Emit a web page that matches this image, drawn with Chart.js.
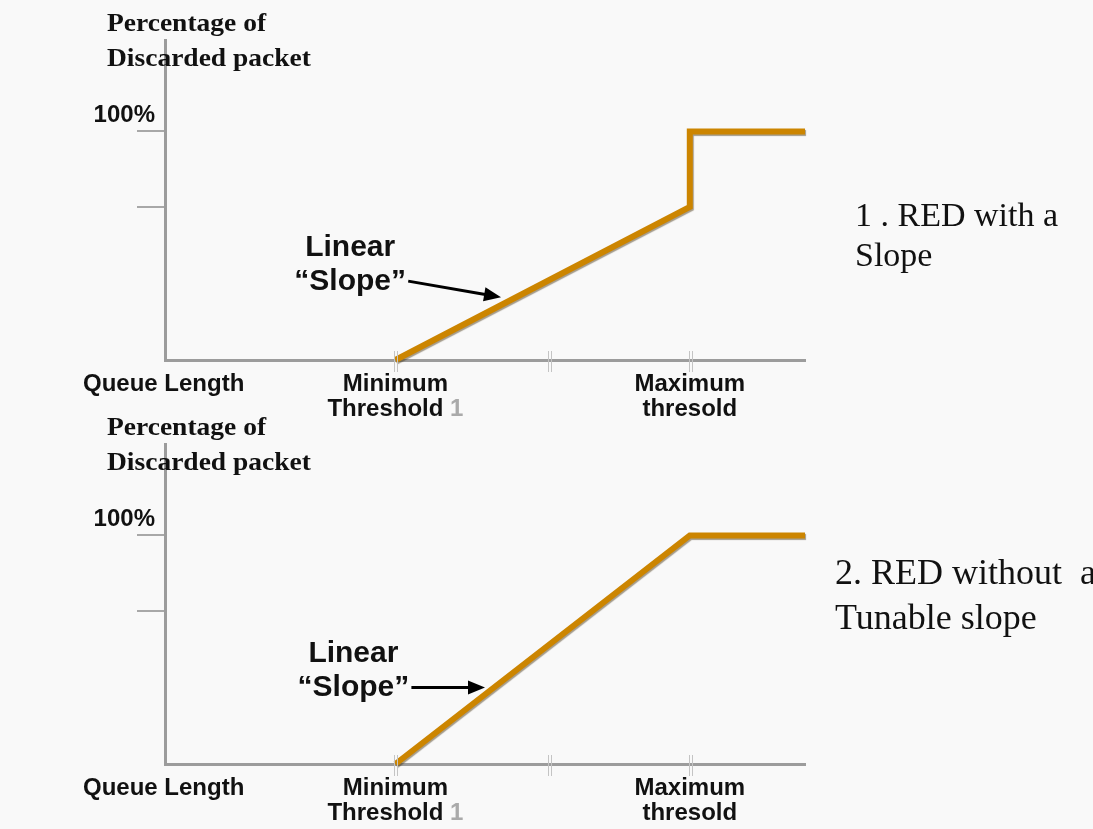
<!DOCTYPE html>
<html>
<head>
<meta charset="utf-8">
<script src="https://cdn.jsdelivr.net/npm/chart.js@4.4.1/dist/chart.umd.min.js"></script>
<style>
  body { margin: 0; background: #f9f9f9; overflow: hidden; }
  #page { position: relative; width: 1093px; height: 829px; overflow: hidden; }
  .panel { position: absolute; left: 0; width: 1093px; height: 404px; }
  .panel canvas { position: absolute; left: 0; top: 0; }
  .lbl { position: absolute; white-space: pre; color: #111; }
  .sans { font: bold 24px "Liberation Sans", Arial, sans-serif; line-height: 25px; }
  .center { text-align: center; }
  .ytitle { font: bold 25px "Liberation Serif", "Times New Roman", serif; line-height: 35px; transform: scaleX(1.1); transform-origin: 0 0; }
  .note { font: bold 30px "Liberation Sans", Arial, sans-serif; line-height: 34px; text-align: center; }
  .side { font: 34px "Liberation Serif", "Times New Roman", serif; line-height: 40px; }
  .side2 { font: 36px "Liberation Serif", "Times New Roman", serif; line-height: 45px; }
  .gray { color: #aaa; }
</style>
</head>
<body>
<div id="page">
  <div class="panel" id="p1" style="top:0"><canvas id="c1" width="1093" height="404"></canvas></div>
  <div class="panel" id="p2" style="top:404px"><canvas id="c2" width="1093" height="404"></canvas></div>
</div>
<script>
// axis ticks + labels
const queueTicks = [36, 60, 82];
const queueTickLabels = ['Minimum\nThreshold', '', 'Maximum\nthresold'];
const thresholdIndex = '1';
const dropTicks = [67, 100];
const dropTickLabels = ['', '100%'];
const yTitle = 'Percentage of\nDiscarded packet';
const xTitle = 'Queue Length';

// 1. RED with a slope
const slopeQueue = [36, 82, 82, 100];
const slopeDrop = [0, 67, 100, 100];
// 2. RED without a tunable slope
const steepQueue = [36, 82, 100];
const steepDrop = [0, 100, 100];

// "Linear Slope" arrows, [tail, tip] in data units
const slopeArrow = [[38, 34.5], [52.5, 27.5]];
const steepArrow = [[38.5, 33.5], [50, 33.5]];

const lineColor = '#cc8500';

const marksPlugin = {
  id: 'marks',
  beforeDatasetsDraw(chart) {
    const ctx = chart.ctx;
    ctx.save();
    ctx.shadowColor = 'rgba(60,40,0,0.45)';
    ctx.shadowOffsetX = 1;
    ctx.shadowOffsetY = 1.5;
    ctx.shadowBlur = 1;
  },
  afterDatasetsDraw(chart) {
    chart.ctx.restore();
  },
  afterDraw(chart, args, opts) {
    const { ctx, scales: { x, y } } = chart;
    const base = y.getPixelForValue(0);
    ctx.save();
    // little double ticks across the queue axis
    ctx.strokeStyle = '#c4c4c4';
    ctx.lineWidth = 1;
    queueTicks.forEach(v => {
      const px = Math.round(x.getPixelForValue(v)) + 0.5;
      [-1, 2].forEach(d => {
        ctx.beginPath();
        ctx.moveTo(px + d, base - 9);
        ctx.lineTo(px + d, base + 12);
        ctx.stroke();
      });
    });
    // arrow
    const [from, to] = opts.arrow;
    const x0 = x.getPixelForValue(from[0]), y0 = y.getPixelForValue(from[1]);
    const x1 = x.getPixelForValue(to[0]), y1 = y.getPixelForValue(to[1]);
    const ang = Math.atan2(y1 - y0, x1 - x0);
    const c = Math.cos(ang), s = Math.sin(ang);
    const head = 17, half = 7;
    const bx = x1 - head * c, by = y1 - head * s;
    ctx.strokeStyle = '#000';
    ctx.fillStyle = '#000';
    ctx.lineWidth = 3;
    ctx.beginPath();
    ctx.moveTo(x0, y0);
    ctx.lineTo(bx + c, by + s);
    ctx.stroke();
    ctx.beginPath();
    ctx.moveTo(x1, y1);
    ctx.lineTo(bx - half * s, by + half * c);
    ctx.lineTo(bx + half * s, by - half * c);
    ctx.closePath();
    ctx.fill();
    ctx.restore();
  }
};

function addLabel(panel, cls, html, css) {
  const d = document.createElement('div');
  d.className = 'lbl ' + cls;
  d.innerHTML = html;
  Object.assign(d.style, css);
  panel.appendChild(d);
  return d;
}

function makePanel(n, queue, drop, arrow, sideText, sideCls, sideLeft, sideTop) {
  const panel = document.getElementById('p' + n);
  const ctx = document.getElementById('c' + n).getContext('2d');
  const chart = new Chart(ctx, {
    type: 'line',
    data: {
      datasets: [{
        data: queue.map((q, i) => ({ x: q, y: drop[i] })),
        borderColor: lineColor,
        borderWidth: 6,
        pointRadius: 0,
        tension: 0,
        fill: false,
        borderJoinStyle: 'miter',
        borderCapStyle: 'butt',
        clip: false
      }]
    },
    options: {
      responsive: false,
      animation: false,
      events: [],
      layout: { padding: { left: 165, right: 288, top: 40, bottom: 44 } },
      plugins: { legend: { display: false }, tooltip: { enabled: false }, marks: { arrow: arrow } },
      scales: {
        x: {
          type: 'linear', min: 0, max: 100,
          afterFit: sc => { sc.height = 0; },
          afterBuildTicks: sc => { sc.ticks = queueTicks.map(v => ({ value: v })); },
          ticks: { display: false },
          grid: { display: false },
          border: { display: true, color: '#9c9c9c', width: 3 }
        },
        y: {
          min: 0, max: 140,
          afterFit: sc => { sc.width = 0; },
          afterBuildTicks: sc => { sc.ticks = dropTicks.map(v => ({ value: v })); },
          ticks: { display: false },
          grid: { drawOnChartArea: false, drawTicks: true, tickLength: 28, color: '#a8a8a8', lineWidth: 2 },
          border: { display: true, color: '#9c9c9c', width: 3 }
        }
      }
    },
    plugins: [marksPlugin]
  });

  const x = chart.scales.x, y = chart.scales.y;
  const base = y.getPixelForValue(0);

  addLabel(panel, 'ytitle', yTitle, { left: '107px', top: '5px' });
  dropTicks.forEach((v, i) => {
    if (!dropTickLabels[i]) return;
    addLabel(panel, 'sans', dropTickLabels[i], {
      right: (1093 - (x.left - 10)) + 'px',
      top: (y.getPixelForValue(v) - 30) + 'px'
    });
  });
  addLabel(panel, 'sans', xTitle, { left: '83px', top: (base + 10) + 'px' });
  queueTicks.forEach((v, i) => {
    let t = queueTickLabels[i];
    if (!t) return;
    if (i === 0) t += ' <span class="gray">' + thresholdIndex + '</span>';
    addLabel(panel, 'sans center', t, {
      left: x.getPixelForValue(v) + 'px',
      top: (base + 10) + 'px',
      transform: 'translateX(-50%)'
    });
  });
  const tx = x.getPixelForValue(arrow[0][0]), ty = y.getPixelForValue(arrow[0][1]);
  addLabel(panel, 'note', 'Linear\n\u201cSlope\u201d', {
    left: (tx - 116) + 'px', width: '116px', top: (ty - 52) + 'px'
  });
  addLabel(panel, sideCls, sideText, { left: sideLeft + 'px', top: sideTop + 'px' });
}

makePanel(1, slopeQueue, slopeDrop, slopeArrow, '1 . RED with a\nSlope', 'side', 855, 195);
makePanel(2, steepQueue, steepDrop, steepArrow, '2. RED without  a\nTunable slope', 'side2', 835, 146);
</script>
</body>
</html>
